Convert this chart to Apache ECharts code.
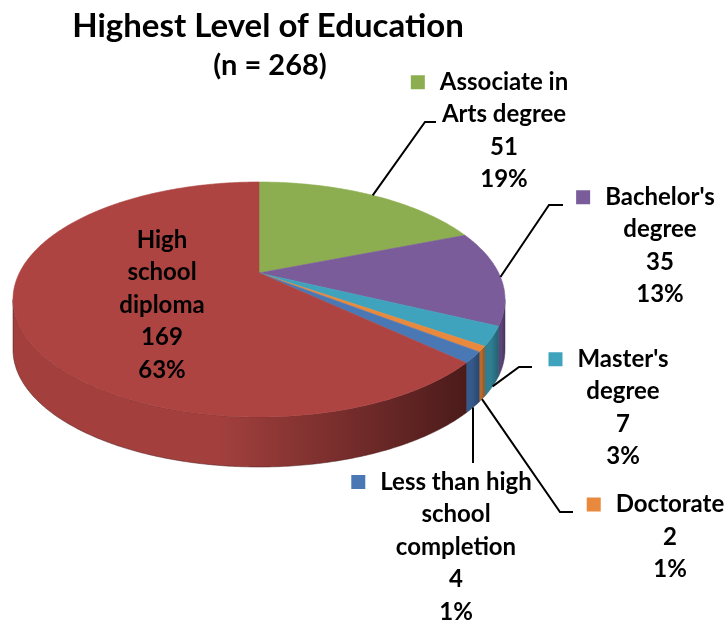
<!DOCTYPE html>
<html>
<head>
<meta charset="utf-8">
<title>Highest Level of Education</title>
<style>
  html, body { margin: 0; padding: 0; background: #fff; }
  #main { width: 725px; height: 622px; }
</style>
<script src="https://cdn.jsdelivr.net/npm/echarts@6/dist/echarts.min.js"></script>
</head>
<body>
<div id="main"></div>
<script>
// data
var categories = ['Associate in\nArts degree', "Bachelor's\ndegree", "Master's\ndegree", 'Doctorate', 'Less than high\nschool\ncompletion', 'High\nschool\ndiploma'];
var counts = [51, 35, 7, 2, 4, 169];
var titleText = 'Highest Level of Education';

// colours: top face / side face (light, dark)
var topColors = ['#8DAE50', '#7B5C9A', '#3FA3BD', '#E8893E', '#4A78B5', '#AE4442'];
var sideColors = [['#6E8A3C', '#55692E'], ['#5C4477', '#463360'], ['#2F7F93', '#245F70'], ['#B56A2E', '#8E5222'], ['#35598A', '#2A466C'], ['#A3403E', '#4B1B1A']];

// label placement (block centre, leader bend/end)
var labelSpots = [
  { x: 504, y: 131, drop: 0, bend: [425, 122], end: [436, 122] },
  { x: 660, y: 246, drop: 0, bend: [549, 205], end: [563, 205] },
  { x: 623, y: 408, drop: 1, bend: [519, 367], end: [532, 367] },
  { x: 670, y: 537, drop: 1, bend: [560, 512], end: [573, 512] },
  { x: 456, y: 547, drop: 1, bend: null, end: [null, 463] },
  { x: 162, y: 305, inside: true }
];

var total = counts.reduce(function (s, v) { return s + v; }, 0);
var cum = [0];
counts.forEach(function (v, i) { cum.push(cum[i] + v); });

// 3d-ish pie geometry (perspective tilted disc)
var cx = 259, apexY = 273, topY = 182, botY = 417, halfW = 246, depth = 50;
var pc = (2 * apexY - topY - botY) / (botY - topY);
var pa = botY - apexY + botY * pc;
var pg = halfW * Math.sqrt(1 - pc * pc);
var sideMin = Math.acos(pc), sideMax = 2 * Math.PI - Math.acos(pc);

function proj(t) {
  var u = Math.sin(t), v = -Math.cos(t);
  var d = 1 + pc * v;
  return [cx + pg * u / d, (pa * v + apexY) / d];
}
function arc(t0, t1, dy) {
  var n = Math.max(2, Math.ceil((t1 - t0) / 0.01));
  var pts = [];
  for (var k = 0; k <= n; k++) {
    var p = proj(t0 + (t1 - t0) * k / n);
    pts.push([p[0], p[1] + dy]);
  }
  return pts;
}

var font = 'bold 24px Lato, sans-serif';

function renderItem(params, api) {
  var i = params.dataIndex;
  var val = api.value(0);
  var t0 = cum[i] / total * 2 * Math.PI;
  var t1 = cum[i + 1] / total * 2 * Math.PI;
  var kids = [];

  // top face
  kids.push({
    type: 'polygon', z2: 10,
    shape: { points: [[cx, apexY]].concat(arc(t0, t1, 0)) },
    style: { fill: topColors[i], stroke: topColors[i], lineWidth: 0.6 }
  });

  // side face
  var s0 = Math.max(t0, sideMin), s1 = Math.min(t1, sideMax);
  if (s1 > s0) {
    var up = arc(s0, s1, 0), down = arc(s0, s1, depth).reverse();
    var sc = sideColors[i];
    kids.push({
      type: 'polygon', z2: 1,
      shape: { points: up.concat(down) },
      style: {
        fill: new echarts.graphic.LinearGradient(0, 0, 1, 0, [{ offset: 0, color: sc[0] }, { offset: 0.45, color: sc[0] }, { offset: 1, color: sc[1] }]),
        stroke: sc[1], lineWidth: 0.5
      }
    });
  }

  // label
  var spot = labelSpots[i];
  var pct = Math.round(val / total * 100) + '%';
  var lines = categories[i].split('\n');
  if (!spot.inside) {
    lines[0] = '{k|}{g|}' + lines[0] + '{p|}';
  }
  var txt = lines.concat([String(val), pct]).join('\n');
  kids.push({
    type: 'text', z2: 30, x: spot.x, y: spot.y,
    style: {
      text: txt, font: font, fill: '#000', align: 'center', verticalAlign: 'middle', lineHeight: 32.5,
      rich: {
        k: { width: 14, height: 14, backgroundColor: topColors[i] },
        g: { width: 15 },
        p: { width: 29 }
      }
    }
  });

  // leader line
  if (!spot.inside) {
    var m = proj((t0 + t1) / 2);
    var a = [m[0], m[1] + depth * spot.drop];
    var pts = spot.bend ? [a, spot.bend, spot.end] : [a, [a[0], spot.end[1]]];
    kids.push({
      type: 'polyline', z2: 20,
      shape: { points: pts },
      style: { stroke: '#000', lineWidth: 2, fill: null }
    });
  }

  return { type: 'group', children: kids };
}

var chart = echarts.init(document.getElementById('main'));
chart.setOption({
  backgroundColor: '#fff',
  animation: false,
  graphic: [
    { type: 'text', x: 268, y: 26, style: { text: titleText, font: 'bold 33px Lato, sans-serif', fill: '#000', align: 'center', verticalAlign: 'middle' } },
    { type: 'text', x: 270, y: 66, style: { text: '(n = ' + total + ')', font: 'bold 29px Lato, sans-serif', fill: '#000', align: 'center', verticalAlign: 'middle' } }
  ],
  series: [{
    type: 'custom',
    coordinateSystem: 'none',
    renderItem: renderItem,
    data: counts.map(function (v, i) { return { name: categories[i].replace(/\n/g, ' '), value: [v] }; })
  }]
});
</script>
</body>
</html>
